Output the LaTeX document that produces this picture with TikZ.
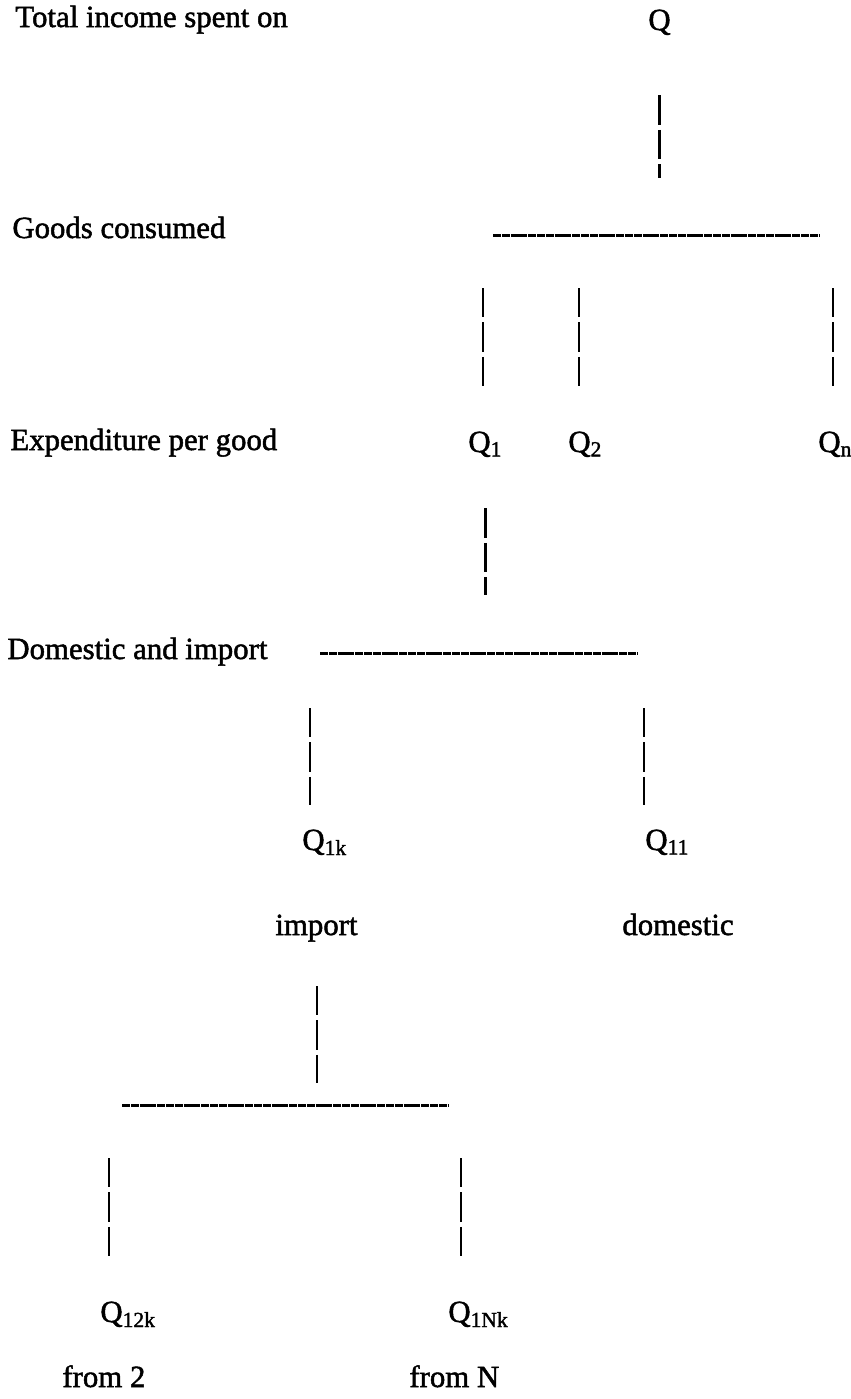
\documentclass[tikz,border=0pt]{standalone}
\usepackage{fontspec}
\setmainfont{Liberation Serif}[FakeBold=1.6]
\usepackage{tikz}
\usetikzlibrary{positioning, calc}

\begin{document}
\begin{tikzpicture}[x=0.5pt, y=-0.5pt,
  every node/.style={inner sep=0pt, anchor=base west, font=\fontsize{15.4}{18}\selectfont},
  vline/.style={line width=1.4pt, dash pattern=on 14.6pt off 2.6pt},
  hline/.style={line width=1.5pt, dash pattern=on 4pt off 0.4pt}]
\useasboundingbox (0,0) rectangle (851,1399);

% Level labels
\node (lTotal) at (15,27) {Total income spent on};
\node (lGoods) at (12,238) {Goods consumed};
\node (lExp)   at (10,450) {Expenditure per good};
\node (lDom)   at (7,659)  {Domestic and import};

% Top: total income
\node (Q) at (648,30) {Q};
\coordinate (b1w) at (493,235);
\coordinate (b1e) at (820,235);
\draw[hline] (b1w) -- (b1e);
\draw[vline, shorten <=30pt, shorten >=28.5pt] (Q) -- (Q |- b1w);

% Goods
\node (Q1) at (468,452) {Q\textsubscript{1}};
\node (Q2) at (568,452) {Q\textsubscript{2}};
\node (Qn) at (818,452) {Q\textsubscript{n}};
\coordinate (b1a) at (483,235);
\coordinate (b1b) at (579,235);
\coordinate (b1c) at (833,235);
\foreach \c/\n in {b1a/Q1, b1b/Q2, b1c/Qn} {
   \draw[vline, shorten <=26.5pt, shorten >=28.5pt] (\c) -- (\c |- \n);
}

% Domestic and import split of good 1
\coordinate (b2w) at (320,653);
\coordinate (b2e) at (638,653);
\draw[hline] (b2w) -- (b2e);
\draw[vline, shorten <=25.5pt, shorten >=29pt] (Q1) -- (Q1 |- b2w);

\node (Q1k) at (302,850) {Q\textsubscript{1k}};
\node (Q11) at (645,850) {Q\textsubscript{11}};
\node (imp) at (275,935) {import};
\node (dom) at (622,935) {domestic};
\coordinate (b2a) at (310,653);
\coordinate (b2b) at (644,653);
\foreach \c/\n in {b2a/Q1k, b2b/Q11} {
   \draw[vline, shorten <=27.5pt, shorten >=18.5pt] (\c) -- (\c |- \n);
}

% Imports by origin
\coordinate (b3w) at (122,1105);
\coordinate (b3e) at (448,1105);
\coordinate (b3t) at (317,1105);
\draw[hline] (b3w) -- (b3e);
\draw[vline, shorten <=29pt, shorten >=11pt] (b3t |- imp) -- (b3t);

\node (Q12k) at (100,1322) {Q\textsubscript{12k}};
\node (Q1Nk) at (448,1322) {Q\textsubscript{1Nk}};
\node (from2) at (62,1387)  {from 2};
\node (fromN) at (409,1387) {from N};
\coordinate (b3a) at (109,1105);
\coordinate (b3b) at (461,1105);
\foreach \c/\n in {b3a/Q12k, b3b/Q1Nk} {
   \draw[vline, shorten <=26.5pt, shorten >=28.5pt] (\c) -- (\c |- \n);
}
\end{tikzpicture}
\end{document}
